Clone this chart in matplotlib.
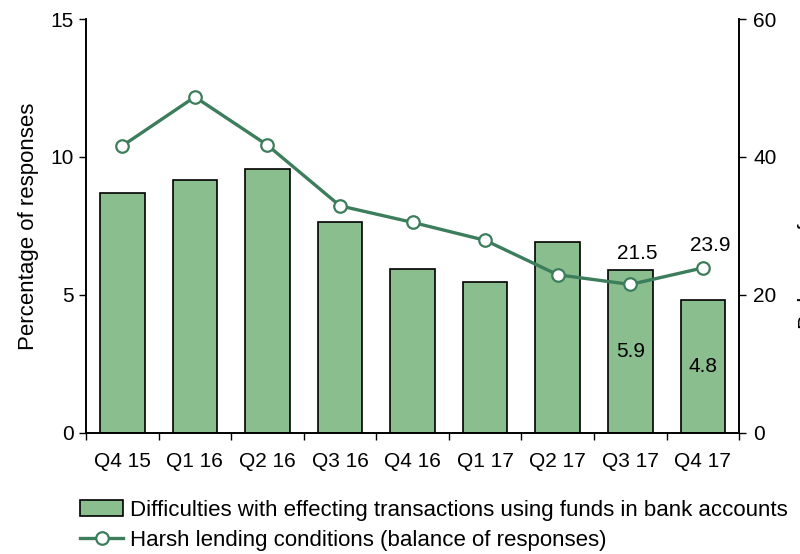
import numpy as np
import matplotlib.pyplot as plt
from matplotlib.ticker import FixedLocator

plt.rcParams['font.family'] = ['Liberation Sans', 'DejaVu Sans']
plt.rcParams['font.size'] = 15

trimestres = ["Q4 15", "Q1 16", "Q2 16", "Q3 16", "Q4 16", "Q1 17", "Q2 17", "Q3 17", "Q4 17"]
dificultades = [8.7, 9.15, 9.55, 7.65, 5.95, 5.45, 6.9, 5.9, 4.8]
condiciones = [41.6, 48.7, 41.7, 32.9, 30.5, 27.9, 22.9, 21.5, 23.9]

color_barra = "#8BBE8F"
color_linea = "#3C7D5B"

x = np.arange(len(trimestres))

fig = plt.figure(figsize=(8, 5.54), dpi=100)
ax = fig.add_axes([0.1075, 0.219, 0.8165, 0.7467])
ax2 = ax.twinx()

barras = ax.bar(x, dificultades, width=0.615, color=color_barra, edgecolor="black",
                linewidth=1.2, label="Difficulties with effecting transactions using funds in bank accounts",
                zorder=2)
linea, = ax2.plot(x, condiciones, color=color_linea, linewidth=2.4, marker="o",
                  markersize=9, markerfacecolor="white", markeredgecolor=color_linea,
                  markeredgewidth=1.6, label="Harsh lending conditions (balance of responses)",
                  zorder=3)

ax.set_xlim(-0.5, len(trimestres) - 0.5)
ax.set_ylim(0, 15)
ax2.set_ylim(0, 60)
ax.set_yticks([0, 5, 10, 15])
ax2.set_yticks([0, 20, 40, 60])

ax.set_xticks(x)
ax.set_xticklabels(trimestres)
ax.tick_params(axis="x", which="major", length=0, pad=14)
ax.xaxis.set_minor_locator(FixedLocator(np.arange(-0.5, len(trimestres), 1)))
ax.tick_params(axis="x", which="minor", length=5, width=1, direction="out")
ax.tick_params(axis="y", length=5, width=1, direction="out", pad=4)
ax2.tick_params(axis="y", length=5, width=1, direction="out", pad=5)

for a in (ax, ax2):
    a.spines["top"].set_visible(False)
    for s in ("left", "right", "bottom"):
        a.spines[s].set_linewidth(1.2)

ax.set_ylabel("Percentage of responses", fontsize=16, labelpad=8)
fig.text(0.997, 0.6, "Balance of responses", rotation=90, ha="left", va="center", fontsize=16)

# valores de los dos ultimos trimestres
desplazamientos = {7: 22, 8: 16}
for i, dy in desplazamientos.items():
    ax2.annotate(f"{condiciones[i]:.1f}", (x[i], condiciones[i]), xytext=(5, dy),
                 textcoords="offset points", ha="center", va="center")
    ax.text(x[i], dificultades[i] / 2, f"{dificultades[i]:.1f}",
            ha="center", va="center", zorder=4)

fig.legend(handles=[barras, linea], loc="upper left", bbox_to_anchor=(0.089, 0.114),
           frameon=False, handlelength=1.95, handletextpad=0.3, labelspacing=0.42,
           borderaxespad=0, fontsize=16)

fig.savefig("out.png", dpi=100)
